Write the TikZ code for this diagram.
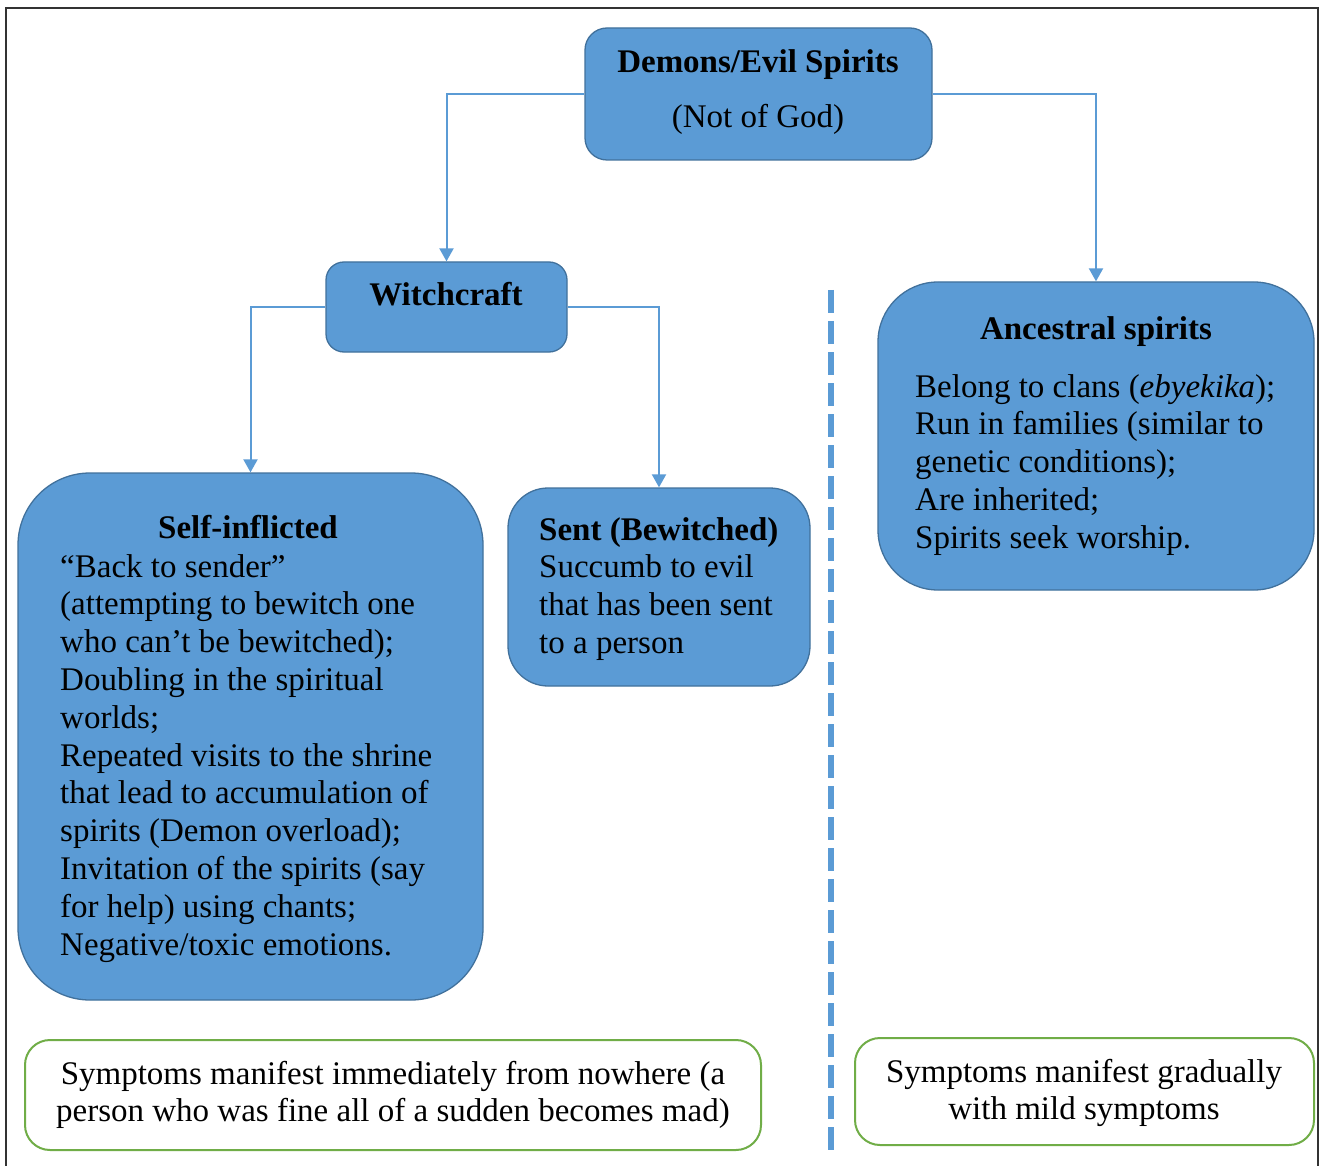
\documentclass[tikz,border=0pt]{standalone}
\usepackage{fontspec}
\setmainfont{Liberation Serif}
\usetikzlibrary{arrows.meta}
\definecolor{boxfill}{HTML}{5B9BD5}
\definecolor{boxedge}{HTML}{41719C}
\definecolor{grn}{HTML}{70AD47}
\definecolor{framec}{HTML}{333333}
\newcommand\myfnt{\fontsize{33}{37.8}\selectfont}
\tikzset{
  bluebox/.style={rectangle, draw=boxedge, fill=boxfill, line width=1.3pt, inner sep=0pt},
  greenbox/.style={rectangle, draw=grn, fill=white, line width=2pt, inner sep=0pt, rounded corners=25pt},
  conn/.style={draw=boxfill, line width=2pt, -{Triangle[width=14pt,length=13pt]}},
  txt/.style={inner sep=0pt, font=\myfnt, text=black},
  framestyle/.style={draw=framec, line width=2.5pt},
  divider/.style={draw=boxfill, line width=5.5pt, dash pattern=on 23pt off 8pt}
}
\begin{document}
\begin{tikzpicture}[x=1pt,y=-1pt]
\useasboundingbox (0,0) rectangle (1320,1166);
\fill[white] (0,0) rectangle (1320,1166);
% frame
\coordinate (fbl) at (6,1170);
\coordinate (ftl) at (6,8);
\coordinate (ftr) at (1318,8);
\coordinate (fbr) at (1318,1170);
\draw[framestyle] (fbl) -- (ftl) -- (ftr) -- (fbr);

% boxes
\node[bluebox, rounded corners=22pt, minimum width=347pt, minimum height=132pt] (top) at (758.5,94) {};
\node[bluebox, rounded corners=18pt, minimum width=241pt, minimum height=90pt] (witch) at (446.5,307) {};
\node[bluebox, rounded corners=72pt, minimum width=465pt, minimum height=527pt] (self) at (250.5,736.5) {};
\node[bluebox, rounded corners=40pt, minimum width=302pt, minimum height=198pt] (sent) at (659,587) {};
\node[bluebox, rounded corners=60pt, minimum width=436pt, minimum height=308pt] (anc) at (1096,436) {};
\node[greenbox, minimum width=736pt, minimum height=110pt] (gl) at (393,1095) {};
\node[greenbox, minimum width=459pt, minimum height=107pt] (gr) at (1084.5,1091.5) {};

% connectors
\draw[conn] (top.west) -| (witch.north);
\draw[conn] (top.east) -| (anc.north);
\draw[conn] (witch.west) -| (self.north);
\draw[conn] (witch.east) -| (sent.north);

% divider
\coordinate (dtop) at (831,290);
\coordinate (dbot) at (831,1157);
\draw[divider] (dtop) -- (dbot);

% texts
\node[txt, anchor=base] (toptitle) at (758,73) {\textbf{Demons/Evil Spirits}};
\node[txt, anchor=base] (topsub) at (758,128) {(Not of God)};
\node[txt, anchor=base] (witchtitle) at (446,306) {\textbf{Witchcraft}};

\node[txt, anchor=base] (selftitle) at (248,538) {\textbf{Self-inflicted}};
\node[txt, anchor=base west] (selftext) at (60,577) {\parbox[t]{420pt}{\myfnt\raggedright
“Back to sender”\\
(attempting to bewitch one\\
who can’t be bewitched);\\
Doubling in the spiritual\\
worlds;\\
Repeated visits to the shrine\\
that lead to accumulation of\\
spirits (Demon overload);\\
Invitation of the spirits (say\\
for help) using chants;\\
Negative/toxic emotions.}};

\node[txt, anchor=base west] (senttext) at (539,540) {\parbox[t]{270pt}{\myfnt\raggedright
\textbf{Sent (Bewitched)}\\
Succumb to evil\\
that has been sent\\
to a person}};

\node[txt, anchor=base] (anctitle) at (1096,339) {\textbf{Ancestral spirits}};
\node[txt, anchor=base west] (anctext) at (915,397) {\parbox[t]{395pt}{\myfnt\raggedright
Belong to clans (\textit{ebyekika});\\
Run in families (similar to\\
genetic conditions);\\
Are inherited;\\
Spirits seek worship.}};

\node[txt, anchor=base] (gltext) at (393,1084) {\parbox[t]{730pt}{\myfnt\centering
Symptoms manifest immediately from nowhere (a\\
person who was fine all of a sudden becomes mad)}};
\node[txt, anchor=base] (grtext) at (1084,1082) {\parbox[t]{450pt}{\myfnt\centering
Symptoms manifest gradually\\
with mild symptoms}};
\end{tikzpicture}
\end{document}
